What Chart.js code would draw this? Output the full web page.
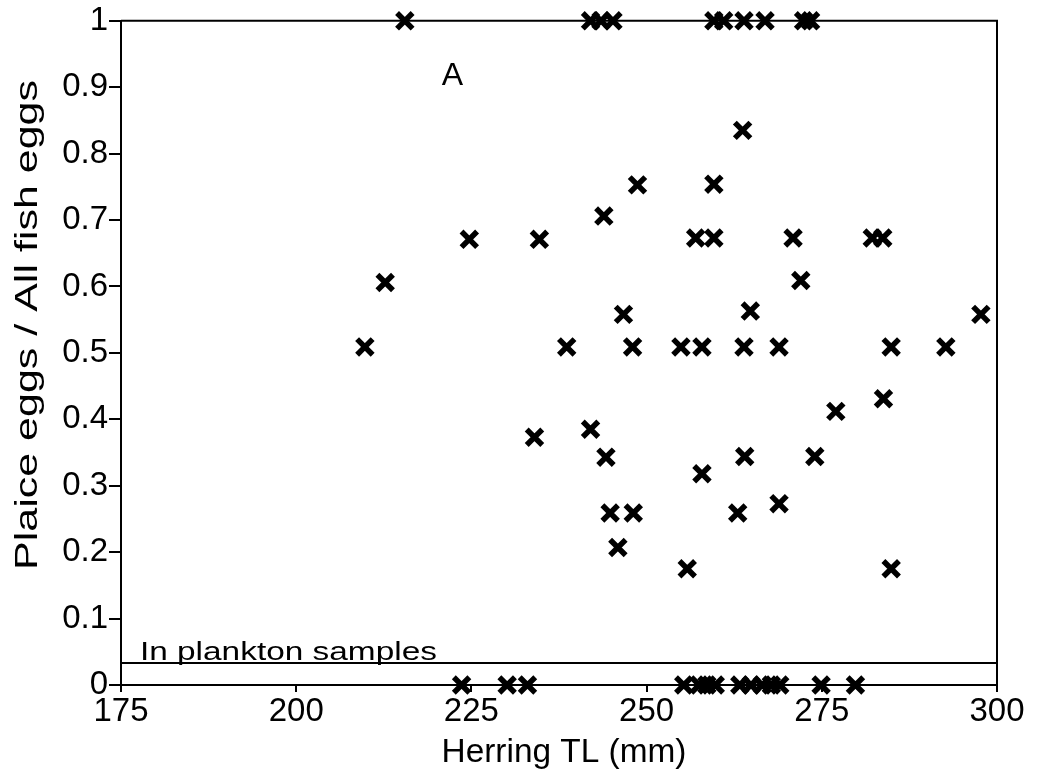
<!DOCTYPE html>
<html><head><meta charset="utf-8">
<script src="https://cdn.jsdelivr.net/npm/chart.js@4"></script>
<style>html,body{margin:0;padding:0;background:#fff}</style>
</head><body>
<canvas id="c" width="1040" height="781" style="display:block;width:1040px;height:781px"></canvas>
<script>
// ---- data ----
const xTickValues = [175, 200, 225, 250, 275, 300];
const yTickValues = [0, 0.1, 0.2, 0.3, 0.4, 0.5, 0.6, 0.7, 0.8, 0.9, 1];
const midX = [209.8, 212.7, 224.7, 234.7, 234.0, 238.6, 242.0, 243.9, 244.2, 244.8, 245.9, 246.7, 248.0, 248.1, 248.7, 254.9, 255.8, 257.0, 257.9, 257.9, 259.6, 259.6, 263.0, 263.7, 263.9, 264.0, 264.8, 268.9, 268.9, 270.9, 272.0, 274.0, 277.0, 282.2, 283.7, 283.8, 284.9, 284.9, 292.7, 297.7];
const midY = [0.509, 0.606, 0.671, 0.671, 0.373, 0.509, 0.385, 0.706, 0.343, 0.259, 0.207, 0.558, 0.509, 0.259, 0.753, 0.509, 0.175, 0.673, 0.509, 0.318, 0.673, 0.754, 0.259, 0.835, 0.509, 0.344, 0.563, 0.509, 0.273, 0.673, 0.609, 0.344, 0.412, 0.673, 0.673, 0.431, 0.509, 0.175, 0.509, 0.558];
const allPlaiceX = [215.5, 242.0, 243.5, 245.2, 259.6, 261.0, 263.9, 266.9, 272.4, 273.4];   // ratio = 1
const noPlaiceX = [223.6, 230.1, 233.0, 255.3, 257.5, 258.6, 259.8, 263.3, 264.9, 266.5, 267.8, 269.0, 274.9, 279.8]; // ratio = 0
const planktonRatio = 0.033;
const xTitle = 'Herring TL (mm)';
const yTitle = 'Plaice eggs / All fish eggs';
const panelLabel = 'A';
const planktonLabel = 'In plankton samples';

const FONT = '"Liberation Sans", Arial, Helvetica, sans-serif';

const points = [];
midX.forEach((x, i) => points.push({x: x, y: midY[i]}));
allPlaiceX.forEach(x => points.push({x: x, y: 1}));
noPlaiceX.forEach(x => points.push({x: x, y: 0}));

function fitText(ctx, txt, x, y, size, width, rot) {
  ctx.save();
  ctx.font = size + 'px ' + FONT;
  const w = ctx.measureText(txt).width;
  ctx.translate(x, y);
  if (rot) ctx.rotate(rot);
  ctx.scale(width / w, 1);
  ctx.fillText(txt, 0, 0);
  ctx.restore();
}

const framePlugin = {
  id: 'frame',
  afterDraw(chart) {
    const ctx = chart.ctx;
    const a = chart.chartArea;
    const xs = chart.scales.x, ys = chart.scales.y;
    ctx.save();
    ctx.strokeStyle = '#000';
    ctx.lineWidth = 2;
    ctx.beginPath();
    ctx.moveTo(a.left, a.top);
    ctx.lineTo(a.right, a.top);
    ctx.lineTo(a.right, a.bottom + 4);
    ctx.stroke();
    ctx.fillStyle = '#000';
    // panel label
    ctx.textAlign = 'center';
    ctx.textBaseline = 'middle';
    ctx.font = '32px ' + FONT;
    ctx.fillText(panelLabel, xs.getPixelForValue(222.3), ys.getPixelForValue(0.916));
    // plankton label
    ctx.textAlign = 'left';
    ctx.textBaseline = 'alphabetic';
    fitText(ctx, planktonLabel, xs.getPixelForValue(177.7), ys.getPixelForValue(planktonRatio) - 3, 26, 297, 0);
    // axis titles
    ctx.textAlign = 'center';
    ctx.textBaseline = 'alphabetic';
    fitText(ctx, xTitle, (a.left + a.right) / 2 + 5, 762, 33, 245, 0);
    ctx.textBaseline = 'middle';
    fitText(ctx, yTitle, 28, 325, 32, 490, -Math.PI / 2);
    ctx.restore();
  }
};

new Chart(document.getElementById('c'), {
  type: 'scatter',
  data: {
    datasets: [
      {
        type: 'line',
        data: [{x: xTickValues[0], y: planktonRatio}, {x: xTickValues[xTickValues.length - 1], y: planktonRatio}],
        borderColor: '#000',
        borderWidth: 2,
        pointRadius: 0,
        clip: false,
        order: 2
      },
      {
        data: points,
        pointStyle: 'crossRot',
        pointRadius: 11,
        pointBorderWidth: 5.5,
        borderColor: '#000',
        backgroundColor: '#000',
        clip: false,
        order: 1
      }
    ]
  },
  options: {
    responsive: false,
    animation: false,
    devicePixelRatio: 1,
    layout: {padding: {left: 0, right: 43, top: 19, bottom: 0}},
    plugins: {legend: {display: false}, tooltip: {enabled: false}},
    scales: {
      x: {
        type: 'linear',
        min: xTickValues[0],
        max: xTickValues[xTickValues.length - 1],
        afterBuildTicks: s => { s.ticks = xTickValues.map(v => ({value: v})); },
        afterFit: s => { s.height = 96; },
        ticks: {font: {size: 33, family: FONT}, color: '#000', padding: 0, maxRotation: 0, autoSkip: false},
        grid: {drawOnChartArea: false, drawTicks: true, tickLength: 7, color: '#000', lineWidth: 2},
        border: {display: true, color: '#000', width: 2}
      },
      y: {
        type: 'linear',
        min: 0,
        max: 1,
        afterBuildTicks: s => { s.ticks = yTickValues.map(v => ({value: v})); },
        afterFit: s => { s.width = 121; },
        ticks: {font: {size: 33, family: FONT}, color: '#000', padding: 1, autoSkip: false,
                callback: v => String(Math.round(v * 10) / 10)},
        grid: {drawOnChartArea: false, drawTicks: true, tickLength: 12, color: '#000', lineWidth: 2},
        border: {display: true, color: '#000', width: 2}
      }
    }
  },
  plugins: [framePlugin]
});
</script>
</body></html>
